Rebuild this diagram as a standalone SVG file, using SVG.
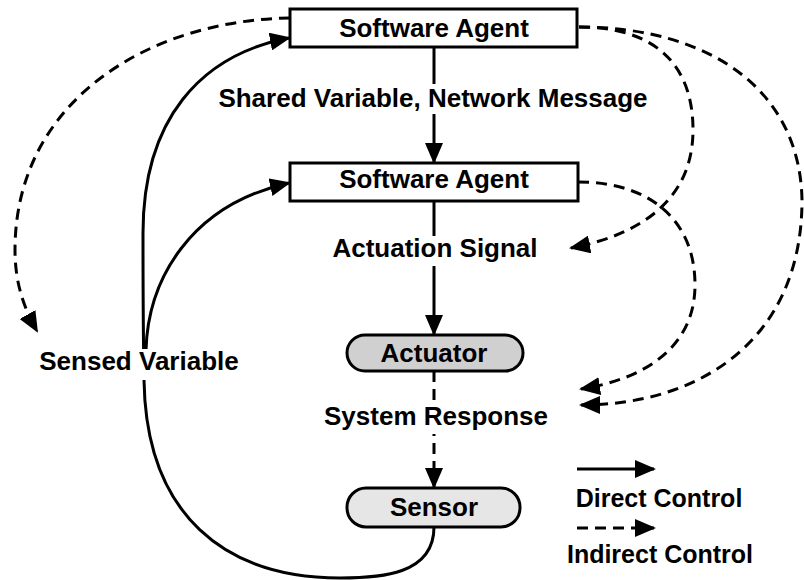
<svg xmlns="http://www.w3.org/2000/svg" width="804" height="580" viewBox="0 0 804 580">
  <style>
    .lbl { font-family: "Liberation Sans", Arial, sans-serif; font-weight: bold; font-size: 26px; fill: #000; text-anchor: middle; }
    .leg { font-size: 25px; }
    .box { fill: #fff; stroke: #000; stroke-width: 3; }
    .act { fill: #d0d0d0; stroke: #000; stroke-width: 3; }
    .sen { fill: #e6e6e6; stroke: #000; stroke-width: 3; }
    .bg { fill: #fff; stroke: none; }
    .solid { fill: none; stroke: #000; stroke-width: 3; marker-end: url(#arrow); }
    .dash { fill: none; stroke: #000; stroke-width: 3; stroke-dasharray: 11 7; marker-end: url(#arrow); }
  </style>
  <defs>
    <marker id="arrow" markerUnits="userSpaceOnUse" markerWidth="21" markerHeight="18" refX="19" refY="9" orient="auto" viewBox="0 0 21 18">
      <path d="M0,0 L21,9 L0,18 z" fill="#000" stroke="none"/>
    </marker>
  </defs>

  <!-- connectors -->
  <g id="connectors">
    <!-- main chain -->
    <path class="solid" d="M434,47 L434,162"/>
    <path class="solid" d="M434,201 L434,334"/>
    <path class="dash" d="M434,371 L434,487"/>
    <!-- sensed variable feedback -->
    <path class="solid" d="M434,527 C434,575 380,578 340,578 C225,578 146,515 144,380 C143,320 143,280 143,233 C143,120 200,55 289,38"/>
    <path class="solid" d="M146,350 C148,280 190,205 289,183"/>
    <!-- indirect influences -->
    <path class="dash" d="M290,18 C150,20 15,100 15,250 C15,285 25,310 37,331"/>
    <path class="dash" d="M579,27 C650,27 693,60 693,130 C693,200 640,235 571,248"/>
    <path class="dash" d="M579,27 C710,27 800,90 802,200 C802,340 700,405 581,405"/>
    <path class="dash" d="M578,182 C650,182 695,220 695,285 C695,350 640,380 581,389"/>
    <!-- legend arrows -->
    <path class="solid" d="M577,469 L654,469"/>
    <path class="dash" d="M577,528 L654,528"/>
  </g>

  <!-- connector labels -->
  <g id="labels">
    <rect class="bg" x="209" y="84" width="448" height="30"/>
    <text class="lbl" x="433" y="107">Shared Variable, Network Message</text>
    <rect class="bg" x="329" y="236" width="212" height="30"/>
    <text class="lbl" x="435" y="257">Actuation Signal</text>
    <rect class="bg" x="321" y="404" width="230" height="30"/>
    <text class="lbl" x="436" y="425">System Response</text>
    <rect class="bg" x="34" y="349" width="210" height="31"/>
    <text class="lbl" x="139" y="370">Sensed Variable</text>
    <text class="lbl leg" x="659" y="507">Direct Control</text>
    <text class="lbl leg" x="660" y="563">Indirect Control</text>
  </g>

  <!-- nodes -->
  <g id="agent-top">
    <rect class="box" x="290" y="9" width="287" height="38"/>
    <text class="lbl" x="434" y="37">Software Agent</text>
  </g>
  <g id="agent-mid">
    <rect class="box" x="290" y="163" width="288" height="38"/>
    <text class="lbl" x="434" y="188">Software Agent</text>
  </g>
  <g id="actuator">
    <rect class="act" x="347" y="335" width="176" height="36" rx="18"/>
    <text class="lbl" x="434" y="362">Actuator</text>
  </g>
  <g id="sensor">
    <rect class="sen" x="347" y="488" width="173" height="39" rx="19"/>
    <text class="lbl" x="434" y="516">Sensor</text>
  </g>
</svg>
